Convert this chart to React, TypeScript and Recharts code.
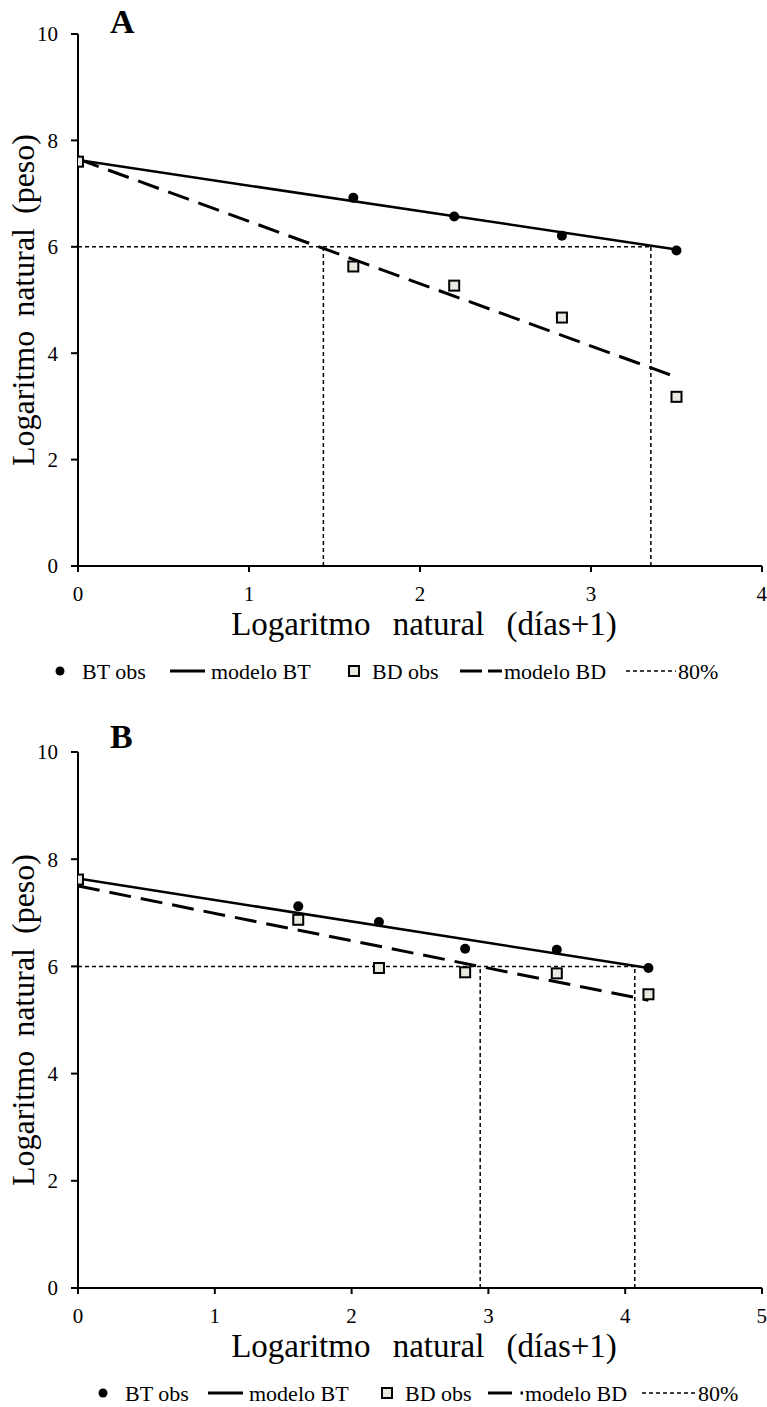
import React from 'react';
import { ComposedChart, Line, Scatter, XAxis, YAxis } from 'recharts';

const FONT = '"Liberation Serif", "Times New Roman", serif';

// ---------- Panel A data ----------
const xTicksA = [0, 1, 2, 3, 4];
const yTicks = [0, 2, 4, 6, 8, 10];
const btObsA = [
  { x: 0, y: 7.62 }, { x: 1.61, y: 6.92 }, { x: 2.2, y: 6.57 }, { x: 2.83, y: 6.21 }, { x: 3.5, y: 5.93 },
];
const bdObsA = [
  { x: 0, y: 7.6 }, { x: 1.61, y: 5.63 }, { x: 2.2, y: 5.27 }, { x: 2.83, y: 4.67 }, { x: 3.5, y: 3.18 },
];
const modelBTA = [{ x: 0, y: 7.63 }, { x: 3.5, y: 5.95 }];
const modelBDA = [{ x: 0, y: 7.65 }, { x: 3.5, y: 3.55 }];
const cutHA = [{ x: 0, y: 6 }, { x: 3.35, y: 6 }];
const cutV1A = [{ x: 1.435, y: 0 }, { x: 1.435, y: 6 }];
const cutV2A = [{ x: 3.35, y: 0 }, { x: 3.35, y: 6 }];

// ---------- Panel B data ----------
const xTicksB = [0, 1, 2, 3, 4, 5];
const btObsB = [
  { x: 0, y: 7.62 }, { x: 1.61, y: 7.12 }, { x: 2.2, y: 6.83 }, { x: 2.83, y: 6.33 }, { x: 3.5, y: 6.31 }, { x: 4.17, y: 5.97 },
];
const bdObsB = [
  { x: 0, y: 7.62 }, { x: 1.61, y: 6.87 }, { x: 2.2, y: 5.97 }, { x: 2.83, y: 5.89 }, { x: 3.5, y: 5.87 }, { x: 4.17, y: 5.48 },
];
const modelBTB = [{ x: 0, y: 7.64 }, { x: 4.17, y: 5.97 }];
const modelBDB = [{ x: 0, y: 7.5 }, { x: 4.17, y: 5.37 }];
const cutHB = [{ x: 0, y: 6 }, { x: 4.07, y: 6 }];
const cutV1B = [{ x: 2.94, y: 0 }, { x: 2.94, y: 6 }];
const cutV2B = [{ x: 4.07, y: 0 }, { x: 4.07, y: 6 }];

const xTitle = 'Logaritmo natural (días+1)';
const yTitle = 'Logaritmo natural (peso)';
const legendLabels = ['BT obs', 'modelo BT', 'BD obs', 'modelo BD', '80%'];

const Dot = (p: any) => <circle cx={p.cx} cy={p.cy} r={5} fill="#000" />;
const Sq = (p: any) => (
  <rect x={p.cx - 5} y={p.cy - 5} width={10} height={10} fill="#e9e9e1" stroke="#000" strokeWidth={2} />
);

const XTitle = (p: any) => {
  const vb = p.viewBox || {};
  return (
    <text x={vb.x + vb.width / 2 + 4} y={vb.y + 69} textAnchor="middle" fontFamily={FONT} fontSize={33}
      fill="#000" style={{ wordSpacing: 14 }}>{xTitle}</text>
  );
};
const YTitle = (p: any) => {
  const vb = p.viewBox || {};
  const cy = vb.y + vb.height / 2;
  return (
    <text x={34} y={cy} transform={`rotate(-90 34 ${cy})`} textAnchor="middle" fontFamily={FONT}
      fontSize={32} fill="#000" style={{ wordSpacing: 6 }}>{yTitle}</text>
  );
};

const tickStyle = { fontFamily: FONT, fontSize: 21, fill: '#000' };

function Panel(props: any) {
  const { height, top, bottom, xMax, xTicks, bt, bd, mbt, mbd, ch, cv1, cv2 } = props;
  return (
    <ComposedChart width={767} height={height} margin={{ top, right: 5, bottom, left: 18 }}>
      <XAxis type="number" dataKey="x" domain={[0, xMax]} ticks={xTicks} allowDataOverflow
        axisLine={{ stroke: '#000', strokeWidth: 2 }} tickLine={{ stroke: '#000', strokeWidth: 2 }}
        tickSize={6} tickMargin={14} tick={tickStyle} height={30} label={<XTitle />} />
      <YAxis type="number" dataKey="y" domain={[0, 10]} ticks={yTicks} allowDataOverflow
        axisLine={{ stroke: '#000', strokeWidth: 2 }} tickLine={{ stroke: '#000', strokeWidth: 2 }}
        tickSize={7} tickMargin={13} tick={tickStyle} width={60} label={<YTitle />} />
      <Line data={ch} dataKey="y" type="linear" stroke="#000" strokeWidth={1.5} strokeDasharray="4 3"
        dot={false} activeDot={false} isAnimationActive={false} />
      <Line data={cv1} dataKey="y" type="linear" stroke="#000" strokeWidth={1.5} strokeDasharray="4 3"
        dot={false} activeDot={false} isAnimationActive={false} />
      <Line data={cv2} dataKey="y" type="linear" stroke="#000" strokeWidth={1.5} strokeDasharray="4 3"
        dot={false} activeDot={false} isAnimationActive={false} />
      <Line data={mbt} dataKey="y" type="linear" stroke="#000" strokeWidth={2.5}
        dot={false} activeDot={false} isAnimationActive={false} />
      <Line data={mbd} dataKey="y" type="linear" stroke="#000" strokeWidth={3} strokeDasharray="22 10"
        dot={false} activeDot={false} isAnimationActive={false} />
      <Scatter data={bt} dataKey="y" shape={<Dot />} isAnimationActive={false} />
      <Scatter data={bd} dataKey="y" shape={<Sq />} isAnimationActive={false} />
    </ComposedChart>
  );
}

function LegendRow(props: any) {
  const { cy, pos, bdIcon } = props;
  const t = (x: number, s: string) => (
    <text x={x} y={cy} dominantBaseline="central" fontFamily={FONT} fontSize={22} fill="#000">{s}</text>
  );
  return (
    <g>
      <circle cx={pos.dot} cy={cy} r={4.5} fill="#000" />
      {t(pos.t1, legendLabels[0])}
      <line x1={pos.l1[0]} x2={pos.l1[1]} y1={cy} y2={cy} stroke="#000" strokeWidth={3} />
      {t(pos.t2, legendLabels[1])}
      <rect x={pos.sq - 5} y={cy - 5} width={10} height={10} fill="#e9e9e1" stroke="#000" strokeWidth={2} />
      {t(pos.t3, legendLabels[2])}
      {bdIcon}
      {t(pos.t4, legendLabels[3])}
      <line x1={pos.l3[0]} x2={pos.l3[1]} y1={cy} y2={cy} stroke="#000" strokeWidth={1.5} strokeDasharray="4 3" />
      {t(pos.t5, legendLabels[4])}
    </g>
  );
}

const posA = { dot: 60, t1: 82, l1: [170, 205], t2: 211, sq: 354, t3: 372, l3: [626, 676], t4: 504, t5: 678 };
const posB = { dot: 103, t1: 125, l1: [208, 243], t2: 249, sq: 387, t3: 405, l3: [642, 697], t4: 525, t5: 698 };

export default function App() {
  return (
    <div style={{ position: 'absolute', left: 0, top: 0, width: 767, height: 1407, background: '#fff' }}>
      <div style={{ position: 'absolute', left: 0, top: 0 }}>
        <Panel height={690} top={34} bottom={94} xMax={4} xTicks={xTicksA} bt={btObsA} bd={bdObsA}
          mbt={modelBTA} mbd={modelBDA} ch={cutHA} cv1={cutV1A} cv2={cutV2A} />
      </div>
      <div style={{ position: 'absolute', left: 0, top: 690 }}>
        <Panel height={717} top={62} bottom={89} xMax={5} xTicks={xTicksB} bt={btObsB} bd={bdObsB}
          mbt={modelBTB} mbd={modelBDB} ch={cutHB} cv1={cutV1B} cv2={cutV2B} />
      </div>
      <svg width={767} height={1407} style={{ position: 'absolute', left: 0, top: 0, pointerEvents: 'none' }}>
        <text x={110} y={33} fontFamily={FONT} fontSize={34} fontWeight="bold" fill="#000">A</text>
        <text x={110} y={748} fontFamily={FONT} fontSize={34} fontWeight="bold" fill="#000">B</text>
        <LegendRow cy={671} pos={posA} bdIcon={
          <g>
            <line x1={460} x2={482} y1={671} y2={671} stroke="#000" strokeWidth={3} />
            <line x1={488} x2={502} y1={671} y2={671} stroke="#000" strokeWidth={3} />
          </g>
        } />
        <LegendRow cy={1393} pos={posB} bdIcon={
          <g>
            <line x1={488} x2={512} y1={1393} y2={1393} stroke="#000" strokeWidth={3} />
            <line x1={520.5} x2={523} y1={1393} y2={1393} stroke="#000" strokeWidth={3} />
          </g>
        } />
      </svg>
    </div>
  );
}
